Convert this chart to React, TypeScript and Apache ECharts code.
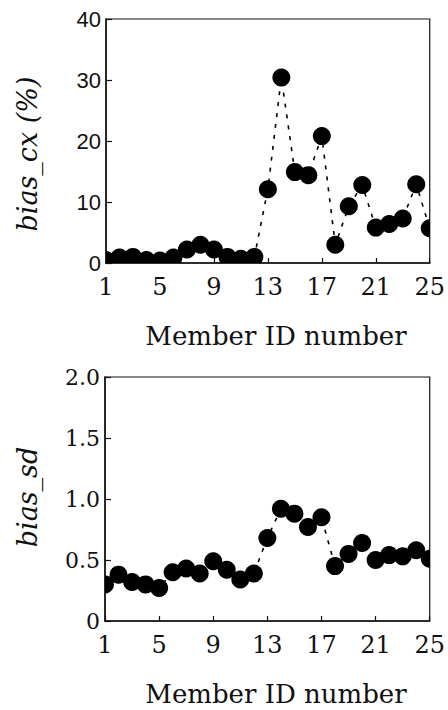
import React, { useEffect, useRef } from "react";
import * as echarts from "echarts";

// Member ID numbers along the x axis
const members = [1, 2, 3, 4, 5, 6, 7, 8, 9, 10, 11, 12, 13, 14, 15, 16, 17, 18, 19, 20, 21, 22, 23, 24, 25];

// bias_cx (%) per member
const biasCx = [0.5, 0.9, 1.0, 0.5, 0.4, 0.9, 2.2, 3.0, 2.2, 1.0, 0.7, 1.0, 12.1, 30.4, 14.9, 14.4, 20.8, 3.0, 9.3, 12.8, 5.8, 6.4, 7.3, 12.9, 5.7];

// bias_sd per member
const biasSd = [0.3, 0.38, 0.32, 0.3, 0.27, 0.4, 0.43, 0.39, 0.49, 0.42, 0.34, 0.39, 0.68, 0.92, 0.88, 0.77, 0.85, 0.45, 0.55, 0.64, 0.5, 0.54, 0.53, 0.58, 0.51];

const xTicks = [1, 5, 9, 13, 17, 21, 25];
const xTitle = "Member ID number";
const topTitle = "bias_cx (%)";
const bottomTitle = "bias_sd";

const SERIF = '"DejaVu Serif", "Liberation Serif", serif';
const INK = "#111";

export default function App() {
  const ref = useRef<HTMLDivElement>(null);

  useEffect(() => {
    if (!ref.current) return;
    const chart = echarts.init(ref.current, undefined, { renderer: "svg" });

    const grids = [
      { left: 106, top: 19, width: 327, height: 244 },
      { left: 105, top: 377, width: 326, height: 244 },
    ];

    const xAxis = grids.map((_, i) => ({
      type: "value",
      gridIndex: i,
      min: xTicks[0],
      max: xTicks[xTicks.length - 1],
      interval: 4,
      axisLine: { show: true, onZero: false, lineStyle: { color: INK, width: 1.5 } },
      axisTick: { show: true, inside: true, length: 5, lineStyle: { color: INK, width: 1.2 } },
      axisLabel: { color: INK, fontFamily: SERIF, fontSize: 24, margin: 12 },
      splitLine: { show: false },
    }));

    const yAxis = [
      {
        type: "value",
        gridIndex: 0,
        min: 0,
        max: 40,
        interval: 10,
        axisLine: { show: true, lineStyle: { color: INK, width: 1.5 } },
        axisTick: { show: true, inside: true, length: 6, lineStyle: { color: INK, width: 1.2 } },
        axisLabel: { color: INK, fontFamily: '"Liberation Sans", Arial, sans-serif', fontSize: 22, margin: 5 },
        splitLine: { show: false },
      },
      {
        type: "value",
        gridIndex: 1,
        min: 0,
        max: 2,
        interval: 0.5,
        axisLine: { show: true, lineStyle: { color: INK, width: 1.5 } },
        axisTick: { show: true, inside: true, length: 6, lineStyle: { color: INK, width: 1.2 } },
        axisLabel: {
          color: INK,
          fontFamily: SERIF,
          fontSize: 22,
          margin: 5,
          formatter: (v: number) => (v === 0 ? "0" : v.toFixed(1)),
        },
        splitLine: { show: false },
      },
    ];

    const dots = (values: number[], idx: number) => ({
      type: "custom",
      xAxisIndex: idx,
      yAxisIndex: idx,
      clip: true,
      z: 3,
      data: members.map((m, i) => [m, values[i]]),
      renderItem: (_params: any, api: any) => {
        const p = api.coord([api.value(0), api.value(1)]);
        return { type: "circle", shape: { cx: p[0], cy: p[1], r: 9 }, style: { fill: "#000" } };
      },
    });

    const dashes = (values: number[], idx: number) => ({
      type: "line",
      xAxisIndex: idx,
      yAxisIndex: idx,
      clip: true,
      symbol: "none",
      z: 2,
      data: members.map((m, i) => [m, values[i]]),
      lineStyle: { color: "#000", width: 1.6, type: [4, 7] },
    });

    chart.setOption({
      animation: false,
      backgroundColor: "#fff",
      grid: grids.map((g) => ({ ...g, show: true, borderColor: INK, borderWidth: 1.2, backgroundColor: "transparent" })),
      xAxis,
      yAxis,
      series: [dashes(biasCx, 0), dots(biasCx, 0), dashes(biasSd, 1), dots(biasSd, 1)],
      graphic: [
        {
          type: "text",
          x: 276,
          y: 336,
          style: { text: xTitle, fill: INK, font: `26px ${SERIF}`, align: "center", verticalAlign: "middle" },
        },
        {
          type: "text",
          x: 276,
          y: 694,
          style: { text: xTitle, fill: INK, font: `26px ${SERIF}`, align: "center", verticalAlign: "middle" },
        },
        {
          type: "text",
          x: 27,
          y: 154,
          rotation: Math.PI / 2,
          style: { text: topTitle, fill: INK, font: `italic 27px ${SERIF}`, align: "center", verticalAlign: "middle" },
        },
        {
          type: "text",
          x: 27,
          y: 497,
          rotation: Math.PI / 2,
          style: { text: bottomTitle, fill: INK, font: `italic 27px ${SERIF}`, align: "center", verticalAlign: "middle" },
        },
      ],
    });

    return () => chart.dispose();
  }, []);

  return <div ref={ref} style={{ position: "fixed", left: 0, top: 0, width: 448, height: 710 }} />;
}
